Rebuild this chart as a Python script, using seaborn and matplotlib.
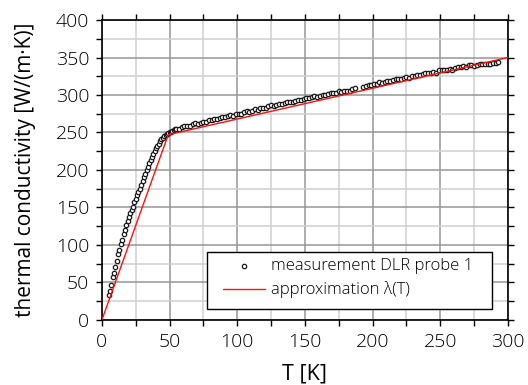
import matplotlib
matplotlib.use("Agg")
import matplotlib.pyplot as plt
import seaborn as sns
import pandas as pd
from matplotlib.ticker import MultipleLocator
from matplotlib.patches import Rectangle

T_meas = [5, 6, 7, 8, 9, 10, 11, 12, 13, 14, 15, 16, 17, 18, 19, 20, 21, 22, 23, 24,
          25, 26, 27, 28, 29, 30, 31, 32, 33, 34, 35, 36, 37, 38, 39, 40, 41, 42, 43, 44,
          45, 46, 47, 48, 49, 50, 51, 52, 53, 54, 55,
          57, 59, 61, 63, 65, 67, 69, 71, 73, 75, 77, 79, 81, 83, 85, 87, 89, 91, 93, 95,
          97, 99, 101, 103, 105, 107, 109, 111, 113, 115, 117, 119, 121, 123, 125, 127, 129,
          131, 133, 135, 137, 139, 141, 143, 145, 147, 149, 151, 153, 155, 157, 159, 161,
          163, 165, 167, 169, 171, 173, 175, 177, 179, 181, 183, 185, 187,
          193, 195, 197, 199, 201, 203, 205, 207, 209, 211, 213, 215, 217, 219, 221, 223,
          225, 227, 229, 231, 233, 235, 237, 239, 241, 243, 245, 247, 249, 251, 253, 255,
          257, 259, 261, 263, 265, 267, 269, 271, 273, 275, 277, 279, 281, 283, 285, 287,
          289, 291, 293]
lam_meas = [33, 38, 47, 57, 63, 71, 79, 88, 93, 101, 107, 114, 120, 127, 132, 137, 143, 147, 151, 157,
            161, 166, 171, 175, 180, 185, 190, 195, 200, 204, 209, 213, 217, 221, 225, 229, 232, 235, 238, 241,
            243, 245, 247, 248, 249, 250, 251, 252, 253, 254, 255,
            255, 257, 258, 259, 259, 261, 262, 261, 263, 264, 264, 266, 266, 268, 268, 269, 271, 270, 272, 273,
            272, 274, 275, 275, 277, 278, 277, 279, 281, 280, 282, 283, 283, 285, 286, 285, 287,
            288, 288, 289, 290, 291, 290, 292, 293, 293, 295, 296, 296, 297, 298, 297, 299,
            300, 300, 301, 302, 302, 303, 305, 304, 305, 306, 306, 308, 309,
            311, 312, 313, 313, 315, 315, 317, 316, 318, 319, 319, 320, 321, 322, 322, 323,
            324, 323, 325, 326, 327, 327, 328, 329, 330, 330, 331, 330, 333, 334, 334, 334,
            335, 334, 336, 337, 338, 339, 338, 340, 340, 339, 340, 341, 341, 342, 341, 342,
            343, 343, 344]

# approximation lambda(T)
T_approx = [0, 49, 300]
lam_approx = [0, 247, 350]

meas = pd.DataFrame({"T": T_meas, "lam": lam_meas})
approx = pd.DataFrame({"T": T_approx, "lam": lam_approx})

sns.set_theme(style="white")
plt.rcParams['font.family'] = ['Open Sans', 'DejaVu Sans']
plt.rcParams['font.weight'] = 'light'

fig = plt.figure(figsize=(5.28, 3.85), dpi=100)
ax = fig.add_axes([0.193, 0.169, 0.769, 0.779])

sns.scatterplot(data=meas, x="T", y="lam", ax=ax, marker="o", s=10,
                facecolor="white", edgecolor="#1a1a1a", linewidth=0.9,
                label="measurement DLR probe 1", zorder=3)
sns.lineplot(data=approx, x="T", y="lam", ax=ax, color="#ff1010", linewidth=1.0,
             label="approximation \u03bb(T)", zorder=4)

ax.set_xlim(0, 300)
ax.set_ylim(0, 400)
ax.xaxis.set_major_locator(MultipleLocator(50))
ax.xaxis.set_minor_locator(MultipleLocator(25))
ax.yaxis.set_major_locator(MultipleLocator(50))
ax.yaxis.set_minor_locator(MultipleLocator(25))
ax.grid(True, which="major", color="#969696", linewidth=1.1)
ax.grid(True, which="minor", color="#d0d0d0", linewidth=1.1)
ax.set_axisbelow(True)

ax.tick_params(which="both", direction="out", top=True, right=True,
               bottom=True, left=True, color="black", width=1.0, length=4,
               labelsize=14, labelcolor="black")
ax.tick_params(axis="x", pad=5.5)
ax.tick_params(axis="y", pad=5)
for s in ax.spines.values():
    s.set_color("black")
    s.set_linewidth(1.2)

ax.set_xlabel("T [K]", fontsize=15.5, color="black", labelpad=9)
ax.set_ylabel("thermal conductivity [W/(m\u00b7K)]", fontsize=15, color="black", labelpad=14)

# legend box (frame drawn separately so its padding matches the reference)
box = Rectangle((0.259, 0.037), 0.702, 0.19, transform=ax.transAxes,
                facecolor="white", edgecolor="black", linewidth=1.0, zorder=5)
ax.add_patch(box)
leg = ax.legend(loc="upper left", bbox_to_anchor=(0.298, 0.205), fontsize=12,
                frameon=False, borderpad=0, handlelength=2.5, handletextpad=0.4,
                labelspacing=0.42, borderaxespad=0, labelcolor="black")
leg.set_zorder(6)

fig.savefig("out.png", dpi=100)
